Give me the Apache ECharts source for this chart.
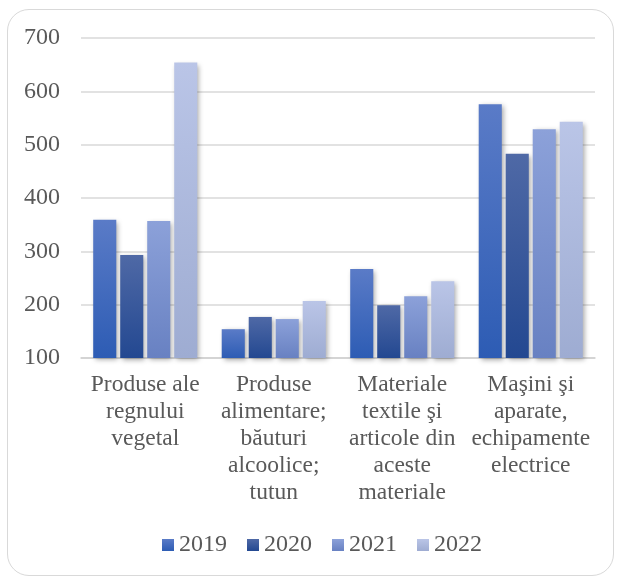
<!DOCTYPE html>
<html>
<head>
<meta charset="utf-8">
<script src="https://cdn.jsdelivr.net/npm/echarts@6/dist/echarts.min.js"></script>
<style>
html,body{margin:0;padding:0;background:#fff;}
#frame{position:absolute;left:7px;top:9px;width:607px;height:567px;border:1.5px solid #d9d9d9;border-radius:22px;box-sizing:border-box;}
#chart{position:absolute;left:0;top:0;width:618px;height:579px;}
</style>
</head>
<body>
<div id="frame"></div>
<div id="chart"></div>
<script>
const categories = [
  "Produse ale\nregnului\nvegetal",
  "Produse\nalimentare;\nbăuturi\nalcoolice;\ntutun",
  "Materiale\ntextile şi\narticole din\naceste\nmateriale",
  "Maşini şi\naparate,\nechipamente\nelectrice"
];
const years = ["2019", "2020", "2021", "2022"];
const v2019 = [359, 154, 267, 576];
const v2020 = [293, 177, 199, 483];
const v2021 = [357, 173, 216, 529];
const v2022 = [654, 207, 244, 543];
const yTicks = [100, 200, 300, 400, 500, 600, 700];

const values = [v2019, v2020, v2021, v2022];
const grads = [
  ["#5a7bc7", "#2d5cb4"],
  ["#4f69a6", "#234891"],
  ["#8ca1d9", "#6881c2"],
  ["#bac5e7", "#9eacd2"]
];
const FONT = "'Liberation Serif','Times New Roman',serif";

const chart = echarts.init(document.getElementById('chart'), null, {renderer: 'canvas'});
const series = years.map((y, i) => ({
  name: y,
  type: 'bar',
  data: values[i],
  barGap: '17%',
  barCategoryGap: '19%',
  itemStyle: {
    color: new echarts.graphic.LinearGradient(0, 0, 0, 1, [
      {offset: 0, color: grads[i][0]},
      {offset: 1, color: grads[i][1]}
    ]),
    shadowBlur: 5,
    shadowColor: 'rgba(0,0,0,0.35)',
    shadowOffsetX: 2,
    shadowOffsetY: 2
  }
}));

chart.setOption({
  animation: false,
  backgroundColor: 'transparent',
  grid: {left: 81, right: 23, top: 38, bottom: 221},
  legend: {
    data: years,
    bottom: 17,
    left: 157,
    icon: 'rect',
    itemWidth: 12,
    itemHeight: 12,
    itemGap: 20,
    textStyle: {fontFamily: FONT, fontSize: 24, color: '#595959'}
  },
  xAxis: {
    type: 'category',
    data: categories,
    axisTick: {show: false},
    axisLine: {show: true, lineStyle: {color: '#cfcfcf', width: 1.5}},
    axisLabel: {
      fontFamily: FONT, fontSize: 23.5, color: '#595959',
      lineHeight: 27, margin: 13, interval: 0
    }
  },
  yAxis: {
    type: 'value',
    min: yTicks[0],
    max: yTicks[yTicks.length - 1],
    interval: 100,
    axisLine: {show: false},
    axisTick: {show: false},
    splitLine: {lineStyle: {color: '#d9d9d9', width: 1.5}},
    axisLabel: {
      fontFamily: FONT, fontSize: 24, color: '#595959', margin: 21,
      formatter: v => String(v)
    }
  },
  series: series
});
</script>
</body>
</html>
